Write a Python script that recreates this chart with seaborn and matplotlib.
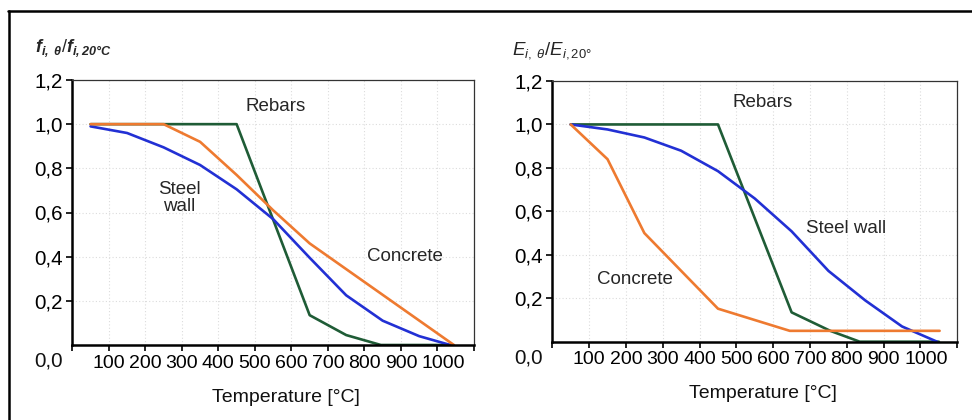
import matplotlib
matplotlib.use("Agg")
import matplotlib.pyplot as plt
from matplotlib.lines import Line2D
import matplotlib.transforms as mtransforms
import seaborn as sns
import pandas as pd

# ---------------- data ----------------
# Left panel: strength reduction f_i,theta / f_i,20C
strength_rebars_T = [50, 450, 650, 750, 845, 1040]
strength_rebars_v = [1.0, 1.0, 0.135, 0.045, 0.0, 0.0]
strength_wall_T = [50, 150, 250, 350, 450, 550, 650, 750, 850, 950, 1035]
strength_wall_v = [0.99, 0.96, 0.895, 0.815, 0.705, 0.57, 0.395, 0.225, 0.11, 0.04, 0.0]
strength_conc_T = [50, 250, 350, 450, 550, 650, 1045]
strength_conc_v = [1.0, 1.0, 0.92, 0.77, 0.61, 0.46, 0.0]

# Right panel: modulus reduction E_i,theta / E_i,20
modulus_rebars_T = [50, 450, 650, 755, 835, 1050]
modulus_rebars_v = [1.0, 1.0, 0.135, 0.05, 0.0, 0.0]
modulus_wall_T = [50, 150, 250, 350, 450, 550, 650, 750, 850, 950, 1045]
modulus_wall_v = [1.0, 0.977, 0.94, 0.879, 0.785, 0.659, 0.508, 0.326, 0.19, 0.07, 0.0]
modulus_conc_T = [50, 150, 250, 450, 645, 1052]
modulus_conc_v = [1.0, 0.84, 0.5, 0.152, 0.05, 0.05]

x_ticks = [0, 100, 200, 300, 400, 500, 600, 700, 800, 900, 1000, 1100]
x_tick_labels = ["", "100", "200", "300", "400", "500", "600", "700", "800", "900", "1000", ""]
y_ticks = [0.2, 0.4, 0.6, 0.8, 1.0, 1.2]
y_tick_labels = ["0,2", "0,4", "0,6", "0,8", "1,0", "1,2"]

COL_REBAR = "#1F5C36"
COL_WALL = "#2230D4"
COL_CONC = "#EE7A30"

# ---------------- style ----------------
sns.set_theme(style="white")
plt.rcParams["font.family"] = ["Liberation Sans", "DejaVu Sans"]
plt.rcParams["mathtext.fontset"] = "custom"
plt.rcParams["mathtext.rm"] = "Liberation Sans"
plt.rcParams["mathtext.it"] = "Liberation Sans:italic"
plt.rcParams["mathtext.bf"] = "Liberation Sans:bold:italic"

W, H = 972, 420
fig = plt.figure(figsize=(W / 100, H / 100), dpi=100)
fig.patch.set_facecolor("white")


def ax_rect(left, right, top, bottom):
    return [left / W, (H - bottom) / H, (right - left) / W, (bottom - top) / H]


axL = fig.add_axes(ax_rect(72.3, 474, 80, 345))
axR = fig.add_axes(ax_rect(552.3, 957.3, 81, 341.7))


def frame(df_list, ax):
    for T, v, col in df_list:
        d = pd.DataFrame({"T": T, "v": v})
        sns.lineplot(data=d, x="T", y="v", ax=ax, color=col, lw=1.9,
                     sort=False, estimator=None)


frame([(strength_rebars_T, strength_rebars_v, COL_REBAR),
       (strength_wall_T, strength_wall_v, COL_WALL),
       (strength_conc_T, strength_conc_v, COL_CONC)], axL)
frame([(modulus_rebars_T, modulus_rebars_v, COL_REBAR),
       (modulus_wall_T, modulus_wall_v, COL_WALL),
       (modulus_conc_T, modulus_conc_v, COL_CONC)], axR)

FS = 13.5
TFS = 14
for ax, xl in ((axL, 0.532), (axR, 0.521)):
    ax.set_xlim(0, 1100)
    ax.set_ylim(0, 1.2)
    ax.set_xticks(x_ticks)
    ax.set_xticklabels(x_tick_labels, fontsize=TFS)
    ax.set_yticks(y_ticks)
    ax.set_yticklabels(y_tick_labels, fontsize=TFS + 0.8)
    ax.tick_params(axis="both", direction="out", length=4, width=1.2,
                   colors="black", pad=3, bottom=True, left=True)
    # nudge the "1000" label to the right as in the reference
    lab = ax.get_xticklabels()[10]
    lab.set_transform(lab.get_transform() +
                      mtransforms.ScaledTranslation(6 / 100, 0, fig.dpi_scale_trans))
    ax.grid(True, color="#dcdcdc", linestyle=(0, (1, 2)), linewidth=0.8)
    ax.set_axisbelow(True)
    for s in ("left", "bottom"):
        ax.spines[s].set_linewidth(1.8)
        ax.spines[s].set_color("black")
    for s in ("top", "right"):
        ax.spines[s].set_linewidth(0.9)
        ax.spines[s].set_color("#333333")
    ax.set_xlabel("Temperature [°C]", fontsize=14, color="#111111")
    ax.xaxis.set_label_coords(xl, -0.165)
    ax.set_ylabel("")
    ax.text(-0.058, -0.062, "0,0", transform=ax.transAxes, fontsize=TFS + 0.8,
            ha="center", va="center", color="#111111")

# annotations
axL.text(557, 1.08, "Rebars", fontsize=FS, ha="center", va="center")
axL.text(293, 0.665, "Steel\nwall", fontsize=FS, ha="center", va="center",
         linespacing=0.95)
axL.text(911, 0.40, "Concrete", fontsize=FS, ha="center", va="center")
axR.text(572, 1.10, "Rebars", fontsize=FS, ha="center", va="center")
axR.text(798, 0.52, "Steel wall", fontsize=FS, ha="center", va="center")
axR.text(224, 0.285, "Concrete", fontsize=FS, ha="center", va="center")

# panel titles
fig.text(35 / W, 1 - 48 / H, r"$\mathbf{f}_{\mathbf{i,\ \theta}}/\mathbf{f}_{\mathbf{i,20°C}}$",
         fontsize=13, ha="left", va="center")
fig.text(512 / W, 1 - 51 / H, r"$\mathit{E}_{\mathit{i,\ \theta}}/\mathit{E}_{\mathit{i,20°}}$",
         fontsize=13.5, ha="left", va="center")

# outer frame
fig.add_artist(Line2D([8 / W, 1.0], [1 - 11 / H, 1 - 11 / H], color="black", lw=1.8,
                      transform=fig.transFigure))
fig.add_artist(Line2D([9 / W, 9 / W], [0, 1 - 11 / H], color="black", lw=1.8,
                      transform=fig.transFigure))

fig.savefig("out.png", dpi=100)
